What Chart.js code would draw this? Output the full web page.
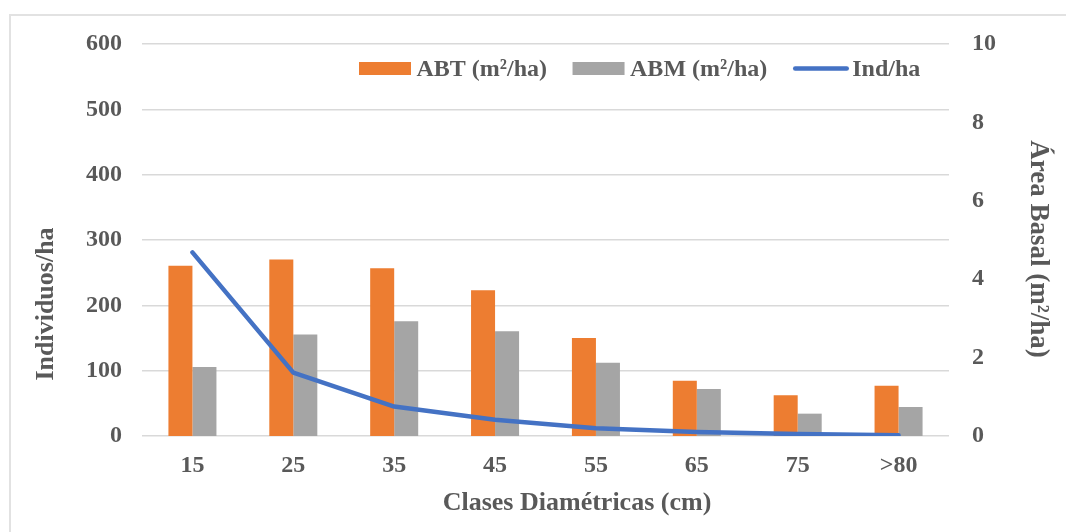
<!DOCTYPE html>
<html>
<head>
<meta charset="utf-8">
<script src="https://cdn.jsdelivr.net/npm/chart.js@4.4.1/dist/chart.umd.min.js"></script>
<style>
  html, body { margin: 0; padding: 0; background: #ffffff; }
  #wrap { position: relative; width: 1066px; height: 532px; overflow: hidden; }
  #frame { position: absolute; left: 9px; top: 14px; width: 1120px; height: 620px;
           border: 2px solid #e2e2e2; box-sizing: border-box; }
  #c { position: absolute; left: 0; top: 0; }
</style>
</head>
<body>
<div id="wrap">
  <div id="frame"></div>
  <canvas id="c" width="1066" height="532"></canvas>
</div>
<script>
// Diameter classes (cm)
const categories = ['15', '25', '35', '45', '55', '65', '75', '>80'];
// Total basal area per class (m²/ha)
const abtValues = [4.34, 4.50, 4.28, 3.72, 2.50, 1.41, 1.04, 1.28];
// Merchantable basal area per class (m²/ha)
const abmValues = [1.76, 2.59, 2.93, 2.67, 1.87, 1.20, 0.57, 0.74];
// Trees per hectare per class
const indValues = [281, 97, 45, 25, 12, 6, 3, 1];

const seriesNames = ['ABT (m²/ha)', 'ABM (m²/ha)', 'Ind/ha'];
const leftTicks = [0, 100, 200, 300, 400, 500, 600];
const rightTicks = [0, 2, 4, 6, 8, 10];

const xTitle = 'Clases Diamétricas (cm)';
const leftTitle = 'Individuos/ha';
const rightTitle = 'Área Basal (m²/ha)';

const TEXT = '#595959';
const SERIF = '"Liberation Serif", "Times New Roman", serif';

// Axis titles placed around the plot area
const axisTitles = {
  id: 'axisTitles',
  afterDraw(chart) {
    const { ctx, chartArea: a } = chart;
    ctx.save();
    ctx.fillStyle = TEXT;
    ctx.font = 'bold 26px ' + SERIF;
    ctx.textAlign = 'center';
    ctx.textBaseline = 'middle';
    ctx.fillText(xTitle, a.left + 435, a.bottom + 67);

    ctx.save();
    ctx.translate(46, a.top + 260);
    ctx.rotate(-Math.PI / 2);
    ctx.fillText(leftTitle, 0, 0);
    ctx.restore();

    ctx.save();
    ctx.font = 'bold 27px ' + SERIF;
    ctx.translate(a.right + 89, a.top + 205);
    ctx.rotate(Math.PI / 2);
    ctx.fillText(rightTitle, 0, 0);
    ctx.restore();
    ctx.restore();
  }
};

// Single-row legend drawn inside the top of the plot area
const innerLegend = {
  id: 'innerLegend',
  afterDraw(chart) {
    const { ctx, chartArea: a } = chart;
    ctx.save();
    ctx.font = 'bold 24px ' + SERIF;
    ctx.textAlign = 'left';
    ctx.textBaseline = 'middle';
    let x = a.left + 217;
    const cy = a.top + 24.5;
    chart.data.datasets.forEach(ds => {
      if (ds.type === 'line') {
        ctx.strokeStyle = ds.borderColor;
        ctx.lineWidth = ds.borderWidth;
        ctx.lineCap = 'round';
        ctx.beginPath();
        ctx.moveTo(x + 2.5, cy);
        ctx.lineTo(x + 54, cy);
        ctx.stroke();
        x += 59.5;
      } else {
        ctx.fillStyle = ds.backgroundColor;
        ctx.fillRect(x, cy - 6.5, 52, 13);
        x += 57.5;
      }
      ctx.fillStyle = TEXT;
      ctx.fillText(ds.label, x, cy + 1);
      x += ctx.measureText(ds.label).width + 25.5;
    });
    ctx.restore();
  }
};

const tickFont = { family: SERIF, size: 24, weight: 'bold' };

new Chart(document.getElementById('c'), {
  data: {
    labels: categories,
    datasets: [
      {
        type: 'bar', label: seriesNames[0], data: abtValues, yAxisID: 'y1',
        backgroundColor: '#ED7D31', borderWidth: 0,
        categoryPercentage: 0.476, barPercentage: 1.0, order: 2
      },
      {
        type: 'bar', label: seriesNames[1], data: abmValues, yAxisID: 'y1',
        backgroundColor: '#A5A5A5', borderWidth: 0,
        categoryPercentage: 0.476, barPercentage: 1.0, order: 2
      },
      {
        type: 'line', label: seriesNames[2], data: indValues, yAxisID: 'y',
        borderColor: '#4472C4', backgroundColor: '#4472C4', borderWidth: 4.5,
        borderCapStyle: 'round', borderJoinStyle: 'round',
        pointRadius: 0, tension: 0, fill: false, order: 0
      }
    ]
  },
  options: {
    responsive: false,
    animation: false,
    devicePixelRatio: 1,
    layout: { padding: { top: 44, left: 0, right: 0, bottom: 0 } },
    plugins: { legend: { display: false }, tooltip: { enabled: false } },
    scales: {
      x: {
        type: 'category',
        grid: { display: false, drawTicks: false },
        border: { display: false },
        ticks: { font: tickFont, color: TEXT, padding: 15, maxRotation: 0 },
        afterFit(s) { s.height = 96; }
      },
      y: {
        position: 'left',
        min: leftTicks[0], max: leftTicks[leftTicks.length - 1],
        afterBuildTicks(s) { s.ticks = leftTicks.map(v => ({ value: v })); },
        grid: { color: '#d9d9d9', lineWidth: 1.5, drawTicks: false },
        border: { display: false },
        ticks: { font: tickFont, color: TEXT, padding: 20 },
        afterFit(s) { s.width = 142; }
      },
      y1: {
        position: 'right',
        min: rightTicks[0], max: rightTicks[rightTicks.length - 1],
        afterBuildTicks(s) { s.ticks = rightTicks.map(v => ({ value: v })); },
        grid: { display: false, drawTicks: false },
        border: { display: false },
        ticks: { font: tickFont, color: TEXT, padding: 23 },
        afterFit(s) { s.width = 117; }
      }
    }
  },
  plugins: [axisTitles, innerLegend]
});
</script>
</body>
</html>
